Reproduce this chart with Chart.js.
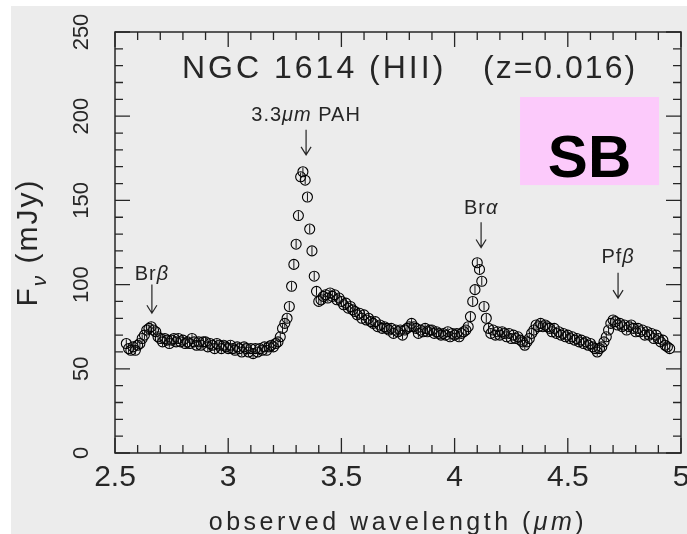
<!DOCTYPE html>
<html lang="en">
<head>
<meta charset="UTF-8">
<title>NGC 1614 spectrum</title>
<style>
  html, body { margin: 0; padding: 0; background: #fff; overflow: hidden; }
  #wrap { position: relative; width: 690px; height: 534px; }
</style>
</head>
<body>
<div id="wrap"><canvas id="spec" width="690" height="534"></canvas></div>
<script src="https://cdn.jsdelivr.net/npm/chart.js"></script>
<script>
  // observed wavelength (micron) and flux density (mJy)
  const wavelength = [
    2.55, 2.56, 2.57, 2.58, 2.59,
    2.60, 2.61, 2.62, 2.63, 2.64, 2.65, 2.66, 2.67, 2.68, 2.69,
    2.70, 2.71, 2.72, 2.73, 2.74, 2.75, 2.76, 2.77, 2.78, 2.79,
    2.80, 2.81, 2.82, 2.83, 2.84, 2.85, 2.86, 2.87, 2.88, 2.89,
    2.90, 2.91, 2.92, 2.93, 2.94, 2.95, 2.96, 2.97, 2.98, 2.99,
    3.00, 3.01, 3.02, 3.03, 3.04, 3.05, 3.06, 3.07, 3.08, 3.09,
    3.10, 3.11, 3.12, 3.13, 3.14, 3.15, 3.16, 3.17, 3.18, 3.19,
    3.20, 3.21, 3.22, 3.23, 3.24, 3.25, 3.26, 3.27, 3.28, 3.29,
    3.30, 3.31, 3.32, 3.33, 3.34, 3.35, 3.36, 3.37, 3.38, 3.39,
    3.40, 3.41, 3.42, 3.43, 3.44, 3.45, 3.46, 3.47, 3.48, 3.49,
    3.50, 3.51, 3.52, 3.53, 3.54, 3.55, 3.56, 3.57, 3.58, 3.59,
    3.60, 3.61, 3.62, 3.63, 3.64, 3.65, 3.66, 3.67, 3.68, 3.69,
    3.70, 3.71, 3.72, 3.73, 3.74, 3.75, 3.76, 3.77, 3.78, 3.79,
    3.80, 3.81, 3.82, 3.83, 3.84, 3.85, 3.86, 3.87, 3.88, 3.89,
    3.90, 3.91, 3.92, 3.93, 3.94, 3.95, 3.96, 3.97, 3.98, 3.99,
    4.00, 4.01, 4.02, 4.03, 4.04, 4.05, 4.06, 4.07, 4.08, 4.09,
    4.10, 4.11, 4.12, 4.13, 4.14, 4.15, 4.16, 4.17, 4.18, 4.19,
    4.20, 4.21, 4.22, 4.23, 4.24, 4.25, 4.26, 4.27, 4.28, 4.29,
    4.30, 4.31, 4.32, 4.33, 4.34, 4.35, 4.36, 4.37, 4.38, 4.39,
    4.40, 4.41, 4.42, 4.43, 4.44, 4.45, 4.46, 4.47, 4.48, 4.49,
    4.50, 4.51, 4.52, 4.53, 4.54, 4.55, 4.56, 4.57, 4.58, 4.59,
    4.60, 4.61, 4.62, 4.63, 4.64, 4.65, 4.66, 4.67, 4.68, 4.69,
    4.70, 4.71, 4.72, 4.73, 4.74, 4.75, 4.76, 4.77, 4.78, 4.79,
    4.80, 4.81, 4.82, 4.83, 4.84, 4.85, 4.86, 4.87, 4.88, 4.89,
    4.90, 4.91, 4.92, 4.93, 4.94, 4.95
  ];
  const flux = [
    65, 62, 61, 63, 61,
    64, 65, 68, 70, 73, 74, 75, 73, 72, 69,
    68, 66, 68, 67, 65, 67, 68, 66, 68, 66,
    67, 65, 66, 65, 68, 66, 64, 66, 64, 66,
    66, 63, 65, 64, 62, 65, 64, 62, 64, 63,
    62, 64, 62, 61, 63, 62, 60, 63, 62, 60,
    62, 59, 62, 60, 62, 61, 63, 61, 63, 64,
    63, 65, 66, 69, 74, 77, 80, 87, 99, 112,
    124, 141, 164, 167, 162, 152, 133, 120, 105, 96,
    90, 91, 93, 94, 92, 95, 93, 94, 91, 92,
    90, 88, 89, 86, 87, 85, 84, 82, 83, 80,
    82, 79, 80, 78, 77, 78, 75, 76, 74, 75,
    74, 73, 74, 71, 73, 72, 73, 70, 73, 74,
    75, 77, 75, 74, 71, 73, 72, 74, 72, 73,
    73, 71, 72, 71, 70, 71, 70, 72, 69, 71,
    70, 71, 69, 71, 72, 73, 75, 81, 90, 97,
    113, 109, 102, 87, 80, 74, 71, 73, 70, 72,
    70, 72, 71, 69, 71, 68, 70, 68, 69, 67,
    66, 64, 66, 68, 71, 73, 76, 75, 77, 75,
    76, 75, 74, 72, 74, 71, 72, 70, 71, 69,
    70, 68, 69, 67, 68, 66, 67, 65, 66, 64,
    65, 63, 62, 60, 62, 63, 66, 69, 73, 77,
    79, 78, 76, 77, 75, 76, 73, 75, 76, 74,
    72, 74, 72, 73, 70, 72, 70, 71, 68, 70,
    68, 66, 67, 64, 63, 62
  ];
  const fluxErr = 2.5; // half length of the little error bars

  const xTickLabels = ['2.5', '3', '3.5', '4', '4.5', '5'];
  const yTickLabels = ['0', '50', '100', '150', '200', '250'];

  // line identifications: label, wavelength, arrow top, arrow tip, label baseline (mJy)
  const lineIds = [
    { parts: [{ t: 'Br' }, { t: 'β', it: true }], lam: 2.663, top: 100, tip: 83, base: 103 },
    { parts: [{ t: '3.3' }, { t: 'μm', it: true }, { t: ' PAH' }], lam: 3.344, top: 192, tip: 177, base: 197 },
    { parts: [{ t: 'Br' }, { t: 'α', it: true }], lam: 4.117, top: 137, tip: 122, base: 142 },
    { parts: [{ t: 'Pf' }, { t: 'β', it: true }], lam: 4.722, top: 107, tip: 92, base: 113 }
  ];

  const INK = '#262626';
  const FONT = '"Liberation Sans", Arial, sans-serif';

  function drawParts(ctx, parts, x, y, size, align, spacing) {
    ctx.letterSpacing = spacing + 'px';
    let w = 0;
    parts.forEach(p => {
      const s = p.sub ? size * 0.7 : size;
      ctx.font = (p.it ? 'italic ' : '') + s + 'px ' + FONT;
      p.w = ctx.measureText(p.t).width;
      w += p.w;
    });
    let cx = align === 'center' ? x - w / 2 : x;
    ctx.textAlign = 'left';
    ctx.textBaseline = 'alphabetic';
    parts.forEach(p => {
      const s = p.sub ? size * 0.7 : size;
      ctx.font = (p.it ? 'italic ' : '') + s + 'px ' + FONT;
      ctx.fillText(p.t, cx, y + (p.sub ? size * 0.3 : 0));
      cx += p.w;
    });
    ctx.letterSpacing = '0px';
  }

  const paper = {
    id: 'paper',
    beforeDraw(chart) {
      const c = chart.ctx;
      c.save();
      c.fillStyle = '#ececec';
      c.fillRect(11, 6, chart.width - 11, chart.height - 6);
      c.restore();
    }
  };

  const errorBars = {
    id: 'errorBars',
    afterDatasetsDraw(chart) {
      const { ctx, scales: { x, y } } = chart;
      ctx.save();
      ctx.strokeStyle = '#111';
      ctx.lineWidth = 1;
      ctx.beginPath();
      wavelength.forEach((lam, i) => {
        const px = x.getPixelForValue(lam);
        ctx.moveTo(px, y.getPixelForValue(flux[i] - fluxErr));
        ctx.lineTo(px, y.getPixelForValue(flux[i] + fluxErr));
      });
      ctx.stroke();
      ctx.restore();
    }
  };

  const frame = {
    id: 'frame',
    afterDraw(chart) {
      const { ctx, chartArea: a, scales: { x, y } } = chart;
      ctx.save();
      ctx.strokeStyle = INK;
      ctx.lineWidth = 1.5;
      ctx.strokeRect(a.left, a.top, a.right - a.left, a.bottom - a.top);
      ctx.lineWidth = 1.3;
      ctx.beginPath();
      x.ticks.forEach(t => {
        const px = x.getPixelForValue(t.value);
        const len = t.label ? 15 : 8;
        ctx.moveTo(px, a.bottom); ctx.lineTo(px, a.bottom - len);
        ctx.moveTo(px, a.top); ctx.lineTo(px, a.top + len);
      });
      y.ticks.forEach(t => {
        const py = y.getPixelForValue(t.value);
        const len = t.label ? 15 : 8;
        ctx.moveTo(a.left, py); ctx.lineTo(a.left + len, py);
        ctx.moveTo(a.right, py); ctx.lineTo(a.right - len, py);
      });
      ctx.stroke();

      // line identifications with arrows
      ctx.fillStyle = INK;
      ctx.lineWidth = 1.2;
      lineIds.forEach(l => {
        const px = x.getPixelForValue(l.lam);
        const y1 = y.getPixelForValue(l.top), y2 = y.getPixelForValue(l.tip);
        ctx.beginPath();
        ctx.moveTo(px, y1); ctx.lineTo(px, y2);
        ctx.moveTo(px - 5, y2 - 8); ctx.lineTo(px, y2); ctx.lineTo(px + 5, y2 - 8);
        ctx.stroke();
        drawParts(ctx, l.parts, px, y.getPixelForValue(l.base), 20, 'center', 1);
      });

      // title
      drawParts(ctx, [{ t: 'NGC 1614 (HII)' }], a.left + 67, a.top + 46, 32, 'left', 3);
      drawParts(ctx, [{ t: '(z=0.016)' }], a.left + 368, a.top + 46, 32, 'left', 2);

      // SB sticker
      const sx1 = x.getPixelForValue(4.289), sx2 = x.getPixelForValue(4.903);
      const sy1 = y.getPixelForValue(211.4), sy2 = y.getPixelForValue(159.1);
      ctx.fillStyle = '#fccafb';
      ctx.fillRect(sx1, sy1, sx2 - sx1, sy2 - sy1);
      ctx.fillStyle = '#000';
      ctx.font = 'bold 60px ' + FONT;
      ctx.textAlign = 'center';
      ctx.textBaseline = 'alphabetic';
      ctx.fillText('SB', (sx1 + sx2) / 2, sy1 + 80);

      // axis titles
      ctx.fillStyle = INK;
      drawParts(ctx, [{ t: 'observed wavelength (' }, { t: 'μm', it: true }, { t: ')' }],
        (a.left + a.right) / 2, 530, 25, 'center', 3.5);
      ctx.translate(37, (a.top + a.bottom) / 2);
      ctx.rotate(-Math.PI / 2);
      drawParts(ctx, [{ t: 'F' }, { t: 'ν', it: true, sub: true }, { t: ' (mJy)' }], 0, 0, 30, 'center', 2);
      ctx.restore();
    }
  };

  const points = wavelength.map((lam, i) => ({ x: lam, y: flux[i] }));

  new Chart(document.getElementById('spec'), {
    type: 'scatter',
    data: {
      datasets: [{
        data: points,
        pointStyle: 'circle',
        pointRadius: 5,
        pointBorderWidth: 1.1,
        borderColor: '#000',
        backgroundColor: 'rgba(0,0,0,0)'
      }]
    },
    options: {
      responsive: false,
      animation: false,
      events: [],
      layout: { padding: { left: 0, top: 32, right: 9, bottom: 0 } },
      plugins: { legend: { display: false }, tooltip: { enabled: false } },
      scales: {
        x: {
          type: 'linear', min: 2.5, max: 5,
          grid: { display: false, drawTicks: false },
          border: { display: false },
          ticks: {
            stepSize: 0.1, autoSkip: false, minRotation: 0, maxRotation: 0, padding: 7,
            color: INK, font: { family: FONT, size: 30 },
            callback: v => {
              const s = String(Math.round(v * 10) / 10);
              return xTickLabels.includes(s) ? s : '';
            }
          },
          afterFit: s => { s.height = 81; s.paddingLeft = 0; s.paddingRight = 0; }
        },
        y: {
          type: 'linear', min: 0, max: 250,
          grid: { display: false, drawTicks: false },
          border: { display: false },
          ticks: {
            stepSize: 10, autoSkip: false, minRotation: 90, maxRotation: 90,
            crossAlign: 'center', padding: 15,
            color: INK, font: { family: FONT, size: 22 },
            callback: v => {
              const s = String(Math.round(v));
              return yTickLabels.includes(s) ? s : '';
            }
          },
          afterFit: s => { s.width = 115; s.paddingTop = 0; s.paddingBottom = 0; }
        }
      }
    },
    plugins: [paper, errorBars, frame]
  });
</script>
</body>
</html>
